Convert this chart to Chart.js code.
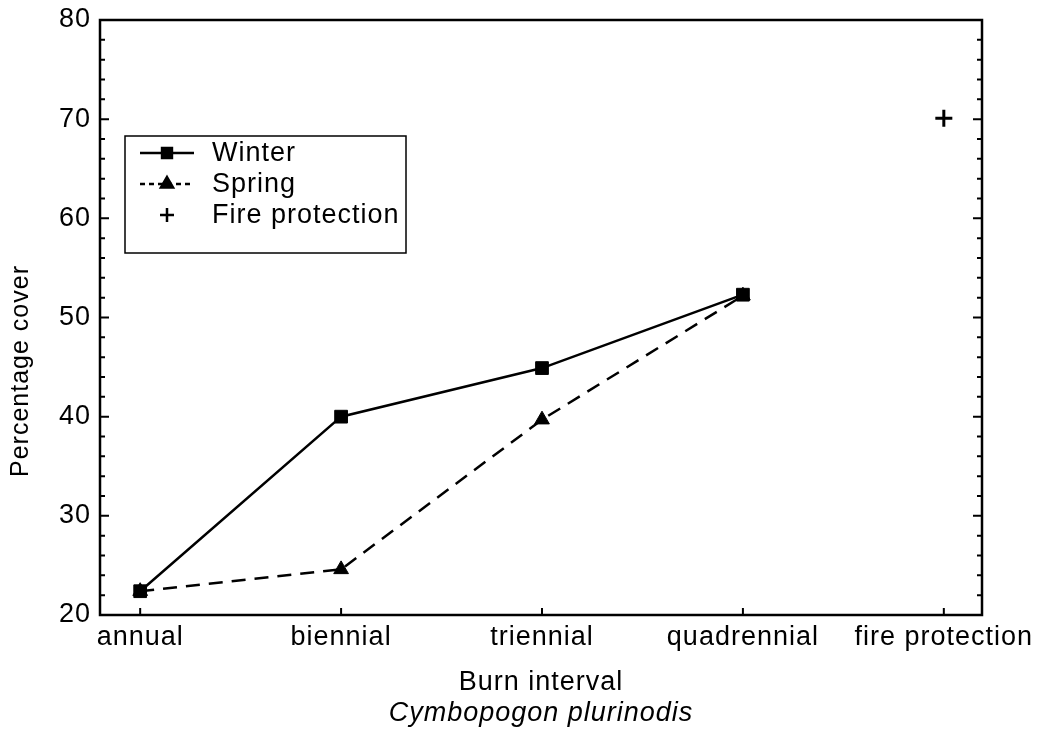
<!DOCTYPE html>
<html>
<head>
<meta charset="utf-8">
<script src="https://cdn.jsdelivr.net/npm/chart.js@4.4.1/dist/chart.umd.min.js"></script>
<style>
    body { margin: 0; background: #fff; }
    canvas { display: block; }
</style>
</head>
<body>
<canvas id="chart" width="1037" height="741"></canvas>
<script>
// Burn interval categories (x = 0..4)
const categories = ['annual', 'biennial', 'triennial', 'quadrennial', 'fire protection'];

// Percentage cover per burn interval
const winter = [22.4, 40.0, 44.9, 52.3];
const spring = [22.4, 24.6, 39.7, 52.2];
const fireProtection = [70.1];
const fireIndex = 4;

const yTitle = 'Percentage cover';
const xTitle = 'Burn interval';
const species = 'Cymbopogon plurinodis';

const fontFamily = '"Liberation Sans", Arial, sans-serif';

Chart.defaults.font.family = fontFamily;
Chart.defaults.font.size = 27;
Chart.defaults.color = '#000';

const toPoints = (arr, start = 0) => arr.map((v, i) => ({ x: start + i, y: v }));

// slightly wider tracking on all canvas text
const spacing = {
    id: 'spacing',
    beforeUpdate (chart) { chart.ctx.letterSpacing = '1px'; },
    beforeDraw (chart) { chart.ctx.letterSpacing = '1px'; }
};

// box round the plot with ticks pointing inwards
const frame = {
    id: 'frame',
    afterDraw (chart) {
        const { ctx, chartArea: a, scales: { x, y } } = chart;
        ctx.save();
        ctx.strokeStyle = '#000';
        ctx.lineWidth = 2.5;
        ctx.strokeRect(a.left, a.top, a.width, a.height);

        ctx.lineWidth = 2;
        ctx.beginPath();
        y.ticks.forEach(t => {
            const py = y.getPixelForValue(t.value);
            const len = t.value % 10 === 0 ? 9 : 5;
            ctx.moveTo(a.left, py);
            ctx.lineTo(a.left + len, py);
            ctx.moveTo(a.right, py);
            ctx.lineTo(a.right - len, py);
        });
        x.ticks.forEach(t => {
            const px = x.getPixelForValue(t.value);
            ctx.moveTo(px, a.bottom);
            ctx.lineTo(px, a.bottom - 7);
        });
        ctx.stroke();

        // y axis title, sitting a bit below the middle of the axis
        ctx.font = '25px ' + fontFamily;
        ctx.fillStyle = '#000';
        ctx.textAlign = 'center';
        ctx.textBaseline = 'middle';
        ctx.translate(21, a.top + 351);
        ctx.rotate(-Math.PI / 2);
        ctx.fillText(yTitle, 0, 0);
        ctx.restore();
    }
};

// legend box in the upper left of the plot
const boxLegend = {
    id: 'boxLegend',
    afterDatasetsDraw (chart) {
        const { ctx, chartArea: a } = chart;
        const left = a.left + 25;
        const top = a.top + 116;
        ctx.save();
        ctx.strokeStyle = '#000';
        ctx.fillStyle = '#000';
        ctx.lineWidth = 1.5;
        ctx.strokeRect(left, top, 281, 117);

        chart.data.datasets.forEach((ds, i) => {
            const cy = top + 17 + i * 31;
            const cx = left + 42;
            if (ds.showLine !== false) {
                ctx.lineWidth = 2.5;
                ctx.setLineDash(ds.borderDash ? [5, 4] : []);
                ctx.beginPath();
                ctx.moveTo(left + 15, cy);
                ctx.lineTo(left + 69, cy);
                ctx.stroke();
                ctx.setLineDash([]);
            }
            Chart.helpers.drawPoint(ctx, {
                pointStyle: ds.pointStyle,
                radius: 7,
                borderWidth: ds.pointBorderWidth || 1,
                rotation: 0
            }, cx, cy);

            ctx.font = '27px ' + fontFamily;
            ctx.textAlign = 'left';
            ctx.textBaseline = 'middle';
            ctx.fillText(ds.label, left + 87, cy + 1);
        });
        ctx.restore();
    }
};

new Chart(document.getElementById('chart'), {
    type: 'line',
    data: {
        datasets: [
            {
                label: 'Winter',
                data: toPoints(winter),
                borderColor: '#000',
                backgroundColor: '#000',
                borderWidth: 2.5,
                pointStyle: 'rect',
                pointRadius: 9,
                pointBorderWidth: 1,
                tension: 0
            },
            {
                label: 'Spring',
                data: toPoints(spring),
                borderColor: '#000',
                backgroundColor: '#000',
                borderWidth: 2.5,
                borderDash: [14, 9],
                pointStyle: 'triangle',
                pointRadius: 8.5,
                pointBorderWidth: 1,
                tension: 0
            },
            {
                label: 'Fire protection',
                data: toPoints(fireProtection, fireIndex),
                borderColor: '#000',
                backgroundColor: '#000',
                showLine: false,
                pointStyle: 'cross',
                pointRadius: 8.5,
                pointBorderWidth: 3
            }
        ]
    },
    options: {
        responsive: false,
        animation: false,
        devicePixelRatio: 1,
        layout: { padding: { top: 20, right: 55, bottom: 0, left: 0 } },
        plugins: {
            legend: { display: false },
            tooltip: { enabled: false },
            subtitle: {
                display: true,
                position: 'bottom',
                fullSize: false,
                text: species,
                color: '#000',
                font: { size: 27, style: 'italic' },
                padding: { top: -1, bottom: 11 }
            }
        },
        scales: {
            x: {
                type: 'linear',
                min: -0.2,
                max: 4.19,
                grid: { display: false, drawTicks: false },
                border: { display: false },
                afterBuildTicks: scale => {
                    scale.ticks = categories.map((c, i) => ({ value: i }));
                },
                afterFit: scale => {
                    scale.height = 83.6;
                    scale.paddingLeft = 0;
                    scale.paddingRight = 0;
                },
                ticks: {
                    padding: 6,
                    autoSkip: false,
                    maxRotation: 0,
                    callback: v => categories[v]
                },
                title: {
                    display: true,
                    text: xTitle,
                    padding: { top: 0, bottom: 0 }
                }
            },
            y: {
                min: 20,
                max: 80,
                grid: { display: false, drawTicks: false },
                border: { display: false },
                afterFit: scale => {
                    scale.width = 100;
                    scale.paddingTop = 0;
                    scale.paddingBottom = 0;
                },
                ticks: {
                    stepSize: 2,
                    autoSkip: false,
                    padding: 9,
                    callback: v => v % 10 === 0 ? v : ''
                }
            }
        }
    },
    plugins: [spacing, frame, boxLegend]
});
</script>
</body>
</html>
